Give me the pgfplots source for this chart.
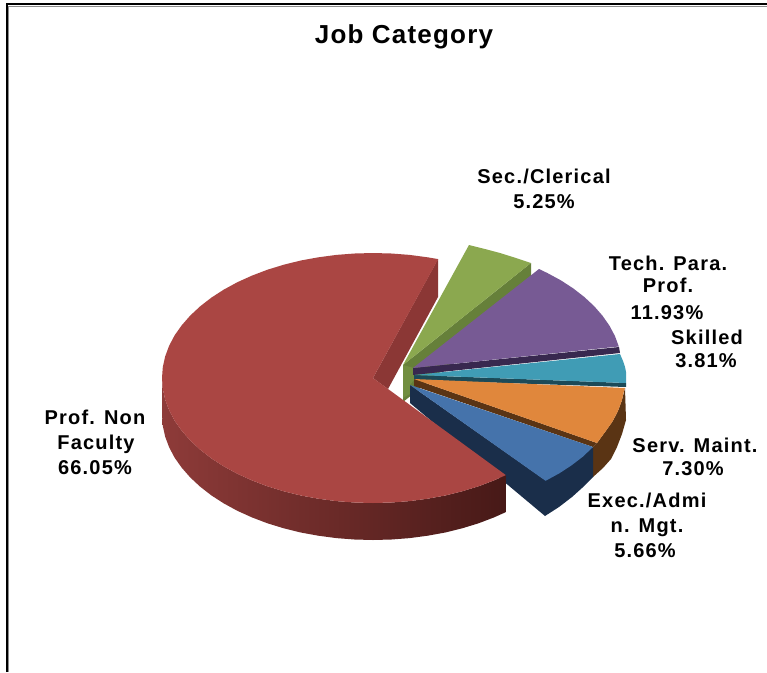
\documentclass[border=0pt]{standalone}
\usepackage{pgfplots}
\pgfplotsset{compat=1.18}
\usepackage{fontspec}
\setmainfont{Liberation Sans}
\newfontfamily\labfont[LetterSpace=6]{Liberation Sans Bold}
\newfontfamily\titfont[LetterSpace=4.6]{Liberation Sans Bold}
\definecolor{rtop}{HTML}{AA4643}
\definecolor{rcut}{HTML}{8B3735}
\definecolor{rw1}{HTML}{8E3B39}
\definecolor{rw2}{HTML}{642826}
\definecolor{rw3}{HTML}{471917}
\definecolor{gtop}{HTML}{8BA84F}
\definecolor{gside}{HTML}{66803A}
\definecolor{ginner}{HTML}{718E40}
\definecolor{ptop}{HTML}{775A94}
\definecolor{pside}{HTML}{38284F}
\definecolor{ttop}{HTML}{409CB5}
\definecolor{tside}{HTML}{1C4A58}
\definecolor{otop}{HTML}{E0873C}
\definecolor{oside}{HTML}{5A3414}
\definecolor{btop}{HTML}{4573AB}
\definecolor{bside}{HTML}{1A2E4A}
\tikzset{lab/.style={inner sep=0pt, anchor=base, font=\labfont\fontsize{20}{22}\selectfont, text=black}}
\begin{document}
\begin{tikzpicture}
\begin{axis}[
  scale only axis, width=767pt, height=672pt,
  xmin=0, xmax=767, ymin=0, ymax=672, y dir=reverse,
  hide axis, clip=true,
]
% background and frame
\addplot[fill=white, draw=none] coordinates {(0,0)(767,0)(767,672)(0,672)(0,0)};
\addplot[draw=black!45, line width=1pt] coordinates {(8.5,672)(8.5,6)(767,6)};
\addplot[draw=black, line width=2.4pt] coordinates {(7,672)(7,4)(767,4)};
% green slice
\addplot[fill=gside, draw=none] coordinates {(403,365)(531,263)(531,300)(403,402)(403,365)};
\addplot[fill=ginner, draw=none] coordinates {(403,365)(414,368)(414,380)(410,385)(410,394)(403,398)(403,365)};
\addplot[fill=gtop, draw=none] coordinates {(403,365)(469,245)(485,249)(500,253)(516,258)(531,263)(403,365)};
% purple slice
\addplot[fill=pside, draw=none] coordinates {(413,368)(619,347)(620,353)(413,375)(413,368)};
\addplot[fill=ptop, draw=none] coordinates {(413,368)(539,269)(547.3,273)(560.8,280.3)(573.1,288.3)(584.2,296.9)(594,306)(602.4,315.6)(609.4,325.6)(614.9,335.9)(618.8,346.5)(413,368)};
% teal slice
\addplot[fill=tside, draw=none] coordinates {(414,375)(626,383)(626,387)(414,380)(414,375)};
\addplot[fill=ttop, draw=none] coordinates {(415,375)(620,354)(623,361)(625,367)(626,372)(626,383)(415,375)};
% orange slice
\addplot[fill=oside, draw=none] coordinates {(625,388)(626,420)(622,434)(617,447)(611,459)(603,468)(593,477)(593,447)(597,443)(605.2,431.8)(612.3,421.8)(617.8,411.4)(621.8,400.7)(625,388)};
\addplot[fill=oside, draw=none] coordinates {(414,379)(597,443)(593,447)(414,386)(414,379)};
\addplot[fill=otop, draw=none] coordinates {(414,379)(625,388)(624.2,390)(621.8,400.7)(617.8,411.4)(612.3,421.8)(605.2,431.8)(597,443)(414,379)};
% blue slice
\addplot[fill=bside, draw=none] coordinates {(410,385)(545,480)(593,447)(593,477)(582,488)(572,497)(559,507)(545,516)(410,403)(410,385)};
\addplot[fill=btop, draw=none] coordinates {(410,385)(593,447)(582.8,456.7)(571.6,465.3)(559.2,473.4)(545.6,480.8)(410,385)};
% red slice
\addplot[fill=rcut, draw=none] coordinates {(438,259)(438,297)(388,389)(373,378)(438,259)};
\addplot[draw=none, left color=rw1, middle color=rw2, right color=rw3] coordinates {
 (162,378)(162.8,388.9)(165.2,399.7)(169.2,410.4)(174.7,420.8)(181.8,430.8)(190.3,440.5)(200.2,449.7)(211.4,458.4)(223.8,466.4)(237.4,473.8)(252,480.4)(267.5,486.3)(283.8,491.3)(300.8,495.5)(318.4,498.7)(336.4,501.1)(354.6,502.5)(373,503)(391.4,502.5)(409.6,501.1)(427.6,498.7)(445.2,495.5)(462.2,491.3)(478.5,486.3)(494,480.4)(505.8,475.1)
 (505.8,512.1)(494,517.4)(478.5,523.3)(462.2,528.3)(445.2,532.5)(427.6,535.7)(409.6,538.1)(391.4,539.5)(373,540)(354.6,539.5)(336.4,538.1)(318.4,535.7)(300.8,532.5)(283.8,528.3)(267.5,523.3)(252,517.4)(237.4,510.8)(223.8,503.4)(211.4,495.4)(200.2,486.7)(190.3,477.5)(181.8,467.8)(174.7,457.8)(169.2,447.4)(165.2,436.7)(162.8,425.9)(162,415)(162,378)};
\addplot[fill=rtop, draw=none] coordinates {
 (373,378)(438.2,259.1)(427.6,257.3)(409.6,254.9)(391.4,253.5)(373,253)(354.6,253.5)(336.4,254.9)(318.4,257.3)(300.8,260.5)(283.8,264.7)(267.5,269.7)(252,275.6)(237.4,282.2)(223.8,289.6)(211.4,297.6)(200.2,306.3)(190.3,315.5)(181.8,325.2)(174.7,335.2)(169.2,345.6)(165.2,356.3)(162.8,367.1)(162,378)
 (162.8,388.9)(165.2,399.7)(169.2,410.4)(174.7,420.8)(181.8,430.8)(190.3,440.5)(200.2,449.7)(211.4,458.4)(223.8,466.4)(237.4,473.8)(252,480.4)(267.5,486.3)(283.8,491.3)(300.8,495.5)(318.4,498.7)(336.4,501.1)(354.6,502.5)(373,503)(391.4,502.5)(409.6,501.1)(427.6,498.7)(445.2,495.5)(462.2,491.3)(478.5,486.3)(494,480.4)(505.8,475.1)(373,378)};
% text
\node[lab, font=\titfont\fontsize{26}{28}\selectfont] at (axis cs:404,43) {Job Category};
\node[lab] at (axis cs:544,183) {Sec./Clerical};
\node[lab] at (axis cs:544,208) {5.25\%};
\node[lab] at (axis cs:668,270) {Tech. Para.};
\node[lab] at (axis cs:668,292) {Prof.};
\node[lab] at (axis cs:667,319) {11.93\%};
\node[lab] at (axis cs:707,344) {Skilled};
\node[lab] at (axis cs:706,367) {3.81\%};
\node[lab] at (axis cs:695,452) {Serv. Maint.};
\node[lab] at (axis cs:693,475) {7.30\%};
\node[lab] at (axis cs:647,507) {Exec./Admi};
\node[lab] at (axis cs:647,532) {n. Mgt.};
\node[lab] at (axis cs:645,557) {5.66\%};
\node[lab] at (axis cs:95,424) {Prof. Non};
\node[lab] at (axis cs:96,449) {Faculty};
\node[lab] at (axis cs:95,474) {66.05\%};
\end{axis}
\end{tikzpicture}
\end{document}
